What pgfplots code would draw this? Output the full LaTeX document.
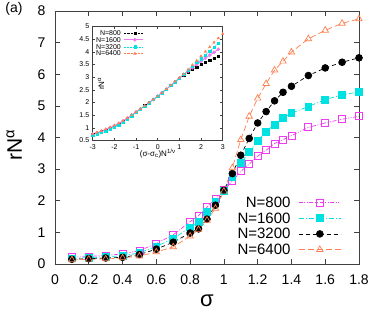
\documentclass[border=0pt]{standalone}
\usepackage{fontspec}
\setmainfont{Liberation Sans}
\usepackage{pgfplots}
\usepackage{pgfplotstable}
\pgfplotsset{compat=1.18}
\definecolor{cmag}{RGB}{240,60,240}
\definecolor{ccyan}{RGB}{0,225,225}
\definecolor{corange}{RGB}{255,127,80}
\definecolor{cviolet}{RGB}{240,120,240}

\pgfplotstableread{
x a b c d
0.10 0.21 0.18 0.15 0.13
0.20 0.24 0.20 0.17 0.15
0.30 0.27 0.23 0.19 0.16
0.40 0.32 0.26 0.21 0.19
0.50 0.42 0.35 0.30 0.25
0.60 0.65 0.56 0.47 0.38
0.70 0.92 0.80 0.69 0.54
0.80 1.34 1.16 0.98 0.88
0.85 1.53 1.34 1.11 1.09
0.90 1.80 1.66 1.42 1.38
0.95 2.07 1.96 1.86 1.76
1.00 2.33 2.32 2.33 2.30
1.05 2.62 2.75 2.86 3.04
1.10 2.93 3.19 3.44 3.93
1.15 3.16 3.54 3.97 4.67
1.20 3.41 3.89 4.46 5.24
1.25 3.60 4.19 4.82 5.70
1.30 3.81 4.41 5.16 6.13
1.35 3.93 4.61 5.43 6.41
1.40 4.06 4.77 5.62 6.70
1.50 4.32 4.98 5.96 7.12
1.60 4.46 5.20 6.20 7.39
1.70 4.58 5.35 6.38 7.61
1.80 4.67 5.44 6.52 7.75
}\maindata

\pgfplotstableread{
x a b c d
-3.0 0.74 0.75 0.72 0.76
-2.8 0.79 0.80 0.77 0.82
-2.6 0.85 0.86 0.82 0.88
-2.4 0.91 0.93 0.88 0.95
-2.2 0.98 1.00 0.94 1.02
-2.0 1.06 1.08 1.02 1.10
-1.8 1.15 1.17 1.11 1.18
-1.6 1.26 1.27 1.22 1.28
-1.4 1.38 1.38 1.35 1.39
-1.2 1.50 1.50 1.48 1.51
-1.0 1.62 1.62 1.61 1.63
-0.8 1.75 1.74 1.74 1.75
-0.6 1.87 1.86 1.86 1.87
-0.4 2.00 1.99 1.99 2.00
-0.2 2.12 2.12 2.12 2.12
0.0 2.25 2.25 2.25 2.25
0.2 2.39 2.39 2.39 2.39
0.4 2.53 2.53 2.53 2.53
0.6 2.67 2.67 2.67 2.68
0.8 2.81 2.81 2.82 2.83
1.0 2.95 2.96 2.97 2.98
1.2 3.08 3.10 3.11 3.12
1.4 3.19 3.24 3.27 3.30
1.6 3.30 3.37 3.43 3.48
1.8 3.40 3.50 3.58 3.65
2.0 3.50 3.63 3.73 3.83
2.2 3.59 3.75 3.88 4.01
2.4 3.67 3.87 4.03 4.19
2.6 3.75 3.98 4.18 4.37
2.8 3.82 4.10 4.34 4.54
}\insetdata

\pgfplotstableread{
x d
3.0 4.71
}\insetextra

\begin{document}
\begin{tikzpicture}
\path[use as bounding box] (-55pt,-47pt) rectangle (319pt,264pt);
\begin{axis}[
  at={(0pt,0pt)}, anchor=south west,
  scale only axis, width=304pt, height=253pt,
  xmin=0, xmax=1.8, ymin=0, ymax=8, clip=false,
  xtick={0,0.2,0.4,0.6,0.8,1,1.2,1.4,1.6,1.8},
  xticklabels={0,0.2,0.4,0.6,0.8,1,1.2,1.4,1.6,1.8},
  ytick={0,1,2,3,4,5,6,7,8},
  yticklabels={0,1,2,3,4,5,6,7,8},
  tick label style={font=\fontsize{14}{16}\selectfont, black},
  xticklabel style={yshift=-7pt},
  yticklabel style={xshift=-6pt},
  major tick length=5pt,
  every tick/.style={black!75, line width=0.6pt},
  axis line style={black!75, line width=0.8pt},
  xlabel={σ},
  xlabel style={font=\fontsize{22}{22}\selectfont, at={(axis description cs:0.5,-0.168)}, anchor=base},
  ylabel={rN\textsuperscript{α}},
  ylabel style={font=\fontsize{21}{21}\selectfont, at={(axis description cs:-0.1086,0.47)}, anchor=base},
  legend style={draw=none, fill=none, inner sep=0pt, at={(rel axis cs:0.942,0.2696)}, anchor=north east,
    font=\fontsize{15}{15}\selectfont, row sep=2.7pt, column sep=7.5pt,
    nodes={inner sep=0.5pt, text height=11pt, text depth=1pt}},
  legend cell align=right, legend plot pos=right,
  legend image code/.code={\draw[mark repeat=2, mark phase=2, #1] plot coordinates {(0pt,0pt) (21pt,0pt) (42pt,0pt)};},
]
\addplot[cmag, line width=0.7pt, dash pattern=on 4pt off 1.5pt on 1pt off 1.5pt on 1pt off 1.5pt,
  mark=square, mark size=3.5pt, mark options={solid, line width=0.8pt}] table[x=x, y=a] {\maindata};
\addlegendentry{N=800}
\addplot[ccyan, line width=0.7pt, dash pattern=on 5pt off 2pt on 1pt off 2pt,
  mark=square*, mark size=3.4pt, mark options={solid}] table[x=x, y=b] {\maindata};
\addlegendentry{N=1600}
\addplot[black, line width=0.7pt, dash pattern=on 4pt off 3pt,
  mark=*, mark size=3.4pt, mark options={solid}] table[x=x, y=c] {\maindata};
\addlegendentry{N=3200}
\addplot[corange, line width=0.7pt, dash pattern=on 6pt off 3pt,
  mark=triangle, mark size=3.7pt, mark options={solid, line width=0.7pt}] table[x=x, y=d] {\maindata};
\addlegendentry{N=6400}
\node[anchor=base west, font=\fontsize{14}{14}\selectfont, inner sep=0pt] at (rel axis cs:-0.164,0.995) {(a)};
\end{axis}

\begin{axis}[
  at={(37.7pt,123.5pt)}, anchor=south west,
  scale only axis, width=130pt, height=114pt,
  xmin=-3, xmax=3, ymin=0.5, ymax=5, clip=false,
  xtick={-3,-2,-1,0,1,2,3},
  xticklabels={-3,-2,-1,0,1,2,3},
  ytick={0.5,1,1.5,2,2.5,3,3.5,4,4.5,5},
  yticklabels={0.5,1,1.5,2,2.5,3,3.5,4,4.5,5},
  tick label style={font=\fontsize{7}{8}\selectfont, black},
  xticklabel style={yshift=-1pt},
  major tick length=2.5pt,
  every tick/.style={black!75, line width=0.5pt},
  axis line style={black!75, line width=0.7pt},
  axis background/.style={fill=white},
  xlabel={(σ-σ\textsubscript{c})N\textsuperscript{1/ν}},
  xlabel style={font=\fontsize{8}{8}\selectfont, at={(axis description cs:0.5,-0.14)}, anchor=base},
  ylabel={rN\textsuperscript{α}},
  ylabel style={font=\fontsize{8}{8}\selectfont, at={(axis description cs:0.087,0.5)}, anchor=base},
  legend style={draw=none, fill=none, inner sep=0pt, at={(rel axis cs:0.391,0.9715)}, anchor=north east,
    font=\fontsize{7}{7}\selectfont, row sep=1pt, column sep=2.3pt,
    nodes={inner sep=0.3pt, text height=5pt, text depth=0.3pt}},
  legend cell align=right, legend plot pos=right,
  legend image code/.code={\draw[mark repeat=2, mark phase=2, #1] plot coordinates {(0pt,0pt) (11pt,0pt) (19pt,0pt)};},
]
\addplot[black, line width=0.4pt, densely dotted, mark=square*, mark size=1.1pt, mark options={solid}] table[x=x, y=a] {\insetdata};
\addlegendentry{N=800}
\addplot[cviolet, line width=0.9pt, mark=*, mark size=1.3pt, mark options={solid}] table[x=x, y=b] {\insetdata};
\addlegendentry{N=1600}
\addplot[ccyan, line width=0.4pt, dash pattern=on 2pt off 1pt, mark=square*, mark size=1.1pt, mark options={solid}] table[x=x, y=c] {\insetdata};
\addlegendentry{N=3200}
\addplot[corange, line width=0.4pt, densely dotted, mark=triangle*, mark size=1.4pt, mark options={solid}] table[x=x, y=d] {\insetdata};
\addlegendentry{N=6400}
\addplot[corange, line width=0.4pt, densely dotted, mark=triangle*, mark size=1.4pt, mark options={solid}, forget plot] table[x=x, y=d] {\insetextra};
\end{axis}
\end{tikzpicture}
\end{document}
